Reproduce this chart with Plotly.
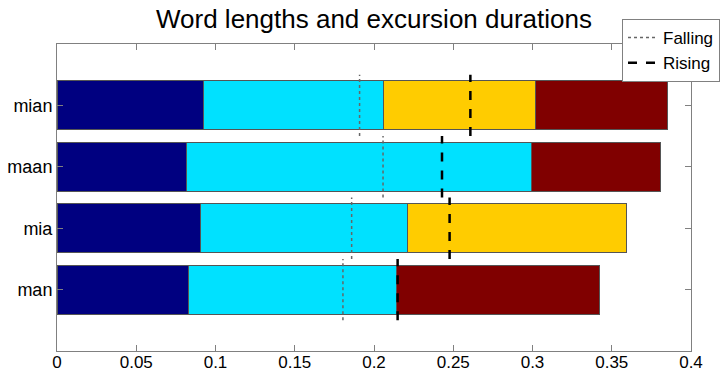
import plotly.graph_objects as go

words = ["man", "mia", "maan", "mian"]
positions = [1, 2, 3, 4]
seg1 = [0.0830, 0.0906, 0.0816, 0.0925]
seg2 = [0.1310, 0.1306, 0.2177, 0.1135]
seg3 = [0.0, 0.1384, 0.0, 0.0958]
seg4 = [0.1283, 0.0, 0.0817, 0.0832]
falling = [0.1804, 0.1859, 0.2057, 0.1909]
rising = [0.2149, 0.2477, 0.2429, 0.2608]
xticks = [0, 0.05, 0.1, 0.15, 0.2, 0.25, 0.3, 0.35, 0.4]
xticktext = ["0", "0.05", "0.1", "0.15", "0.2", "0.25", "0.3", "0.35", "0.4"]

colors = ["#000080", "#00E1FF", "#FFCC00", "#800000"]

fig = go.Figure()
for seg, col in zip([seg1, seg2, seg3, seg4], colors):
    fig.add_trace(go.Bar(
        x=seg, y=positions, orientation="h", width=0.8,
        marker=dict(color=col, line=dict(color="#555555", width=1)),
        showlegend=False, hoverinfo="skip",
    ))

def vlines(vals):
    xs, ys = [], []
    for v, p in zip(vals, positions):
        xs += [v, v, None]
        ys += [p - 0.5, p + 0.5, None]
    return xs, ys

fx, fy = vlines(falling)
rx, ry = vlines(rising)
fig.add_trace(go.Scatter(x=fx, y=fy, mode="lines", name="Falling",
                         line=dict(color="#666666", width=1.5, dash="dot")))
fig.add_trace(go.Scatter(x=rx, y=ry, mode="lines", name="Rising",
                         line=dict(color="black", width=2.5, dash="dash")))

FONT = "Liberation Sans, Arial, sans-serif"
axis_font = dict(family=FONT, size=18, color="black")

fig.update_layout(
    barmode="stack",
    width=722, height=371,
    margin=dict(l=57, r=31, t=44, b=20, autoexpand=False),
    paper_bgcolor="white", plot_bgcolor="white",
    title=dict(text="Word lengths and excursion durations",
               x=(57 + 691) / 2 / 722, xanchor="center", y=1 - 19 / 371, yanchor="middle",
               font=dict(family=FONT, size=26, color="black")),
    xaxis=dict(range=[0, 0.4], tickvals=xticks, ticktext=xticktext,
               showgrid=False, zeroline=False, showline=True, linecolor="#808080", linewidth=1,
               mirror="ticks", ticks="inside", ticklen=6, tickcolor="#808080",
               tickfont=dict(family=FONT, size=17, color="black"),
               automargin=False, ticklabelstandoff=-4),
    yaxis=dict(range=[0, 5], tickvals=positions, ticktext=words,
               showgrid=False, zeroline=False, showline=True, linecolor="#808080", linewidth=1,
               mirror="ticks", ticks="inside", ticklen=6, tickcolor="#808080",
               tickfont=axis_font, automargin=False),
    legend=dict(xref="container", yref="container", x=720 / 722, y=1 - 19 / 371,
                xanchor="right", yanchor="top", bgcolor="white", traceorder="normal",
                bordercolor="#808080", borderwidth=1, itemwidth=30,
                font=dict(family=FONT, size=17, color="black"),
                tracegroupgap=0),
    showlegend=True,
)

fig.write_html("out.html", config={"displayModeBar": False},
               post_script="document.body.style.margin='0';document.body.style.overflow='hidden';")
